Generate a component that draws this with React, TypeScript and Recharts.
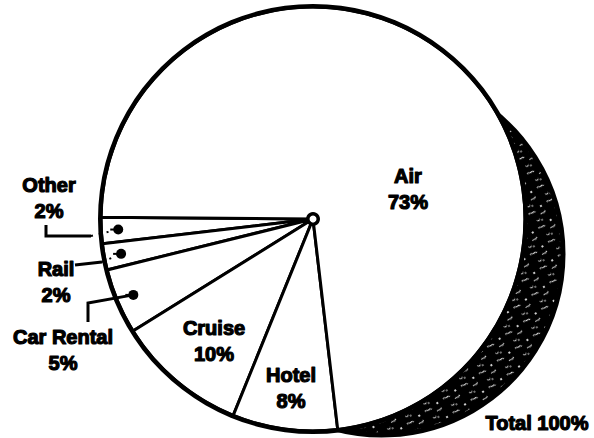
import React from 'react';
import { PieChart, Pie, Cell } from 'recharts';

// travel spend split
const categories = ['Other', 'Rail', 'Car Rental', 'Cruise', 'Hotel', 'Air'];
const shares = [2, 2, 5, 10, 8, 73];
const totalName = 'Total';

const data = categories.map((name, i) => ({ name, value: shares[i] }));
const totalData = [{ name: totalName, value: shares.reduce((a, b) => a + b, 0) }];

const FONT = '"Liberation Sans", Arial, Helvetica, sans-serif';
const RADIAN = Math.PI / 180;

// pie centre and the offset "shadow" disc that makes the crescent
const CX = 313;
const CY = 219;
const R = 212;
const SHADOW_DX = 69;
const SHADOW_DY = 35;

// where the label text sits, relative to the pie centre (first line centre)
const labelSpots: Record<string, { dx: number; dy: number }> = {
	'Other': { dx: -264, dy: -34 },
	'Rail': { dx: -257, dy: 50 },
	'Car Rental': { dx: -250, dy: 118 },
	'Cruise': { dx: -99, dy: 109 },
	'Hotel': { dx: -22, dy: 156 },
	'Air': { dx: 95, dy: -43 },
	'Total': { dx: 155, dy: 169 },
};

// leader lines for the thin slices
const leaders: Record<string, { pts: number[][]; dotted?: boolean; fromDot?: boolean }> = {
	'Other': { pts: [[-267, 6], [-267, 17], [-222, 17]], dotted: true },
	'Rail': { pts: [[-238, 46], [-211, 43]], dotted: true },
	'Car Rental': { pts: [[-225, 84], [-225, 103]], fromDot: true },
};

function Words(props: { x: number; y: number; lines: string[] }) {
	const { x, y, lines } = props;
	return (
		<text x={x} y={y + 7} textAnchor="middle" fontFamily={FONT} fontSize={20} fontWeight={700}
			fill="#000" stroke="#000" strokeWidth={1.2} strokeLinejoin="round">
			{lines.map((l, i) => (
				<tspan key={i} x={x} dy={i === 0 ? 0 : 26}>{l}</tspan>
			))}
		</text>
	);
}

function renderSliceLabel(props: any) {
	const { cx, cy, midAngle, outerRadius, payload } = props;
	const name = payload.name;
	const spot = labelSpots[name];
	const lead = leaders[name];
	let leaderEls = null;
	if (lead) {
		const dotX = cx + outerRadius * 0.92 * Math.cos(-midAngle * RADIAN);
		const dotY = cy + outerRadius * 0.92 * Math.sin(-midAngle * RADIAN);
		const pts = lead.pts.map(p => [cx + p[0], cy + p[1]]);
		const solid = lead.fromDot ? [[dotX, dotY], ...pts] : pts;
		const last = pts[pts.length - 1];
		leaderEls = (
			<g>
				<polyline points={solid.map(p => p.join(',')).join(' ')} fill="none" stroke="#000" strokeWidth={3} />
				{lead.dotted && (
					<line x1={last[0]} y1={last[1]} x2={dotX} y2={dotY} stroke="#000" strokeWidth={2} strokeDasharray="2 6" />
				)}
				<line x1={dotX} y1={dotY} x2={dotX - 8} y2={dotY} stroke="#000" strokeWidth={2} />
				<circle cx={dotX} cy={dotY} r={5} fill="#000" />
			</g>
		);
	}
	return (
		<g key={name}>
			{leaderEls}
			<Words x={cx + spot.dx} y={cy + spot.dy} lines={[name, payload.value + '%']} />
		</g>
	);
}

function renderTotalLabel(props: any) {
	const { cx, cy, payload } = props;
	const spot = labelSpots[payload.name];
	return <Words key="total" x={cx + spot.dx} y={cy + spot.dy} lines={[payload.name + ' ' + payload.value + '%']} />;
}

export default function App() {
	return (
		<div style={{ position: 'absolute', left: 0, top: 0, width: 594, height: 438, background: '#fff' }}>
			<svg width={0} height={0} style={{ position: 'absolute' }}>
				<defs>
					<pattern id="grain" width={22} height={17} patternUnits="userSpaceOnUse" patternTransform="rotate(-35)">
						<rect width={22} height={17} fill="#000" />
						<path d="M2 3 C4 1.5 5 5 8 3.5 L9 5" stroke="#fff" strokeWidth={1} fill="none" />
						<path d="M12 10 C13.5 8 15 11.5 18 9" stroke="#fff" strokeWidth={1} fill="none" />
						<path d="M5 12.5 l2 1.5 l1.5 -1" stroke="#fff" strokeWidth={0.9} fill="none" />
						<circle cx={17} cy={3} r={1.1} fill="#fff" />
						<circle cx={10} cy={15} r={0.8} fill="#fff" />
					</pattern>
				</defs>
			</svg>
			<PieChart width={594} height={438} margin={{ top: 0, right: 0, bottom: 0, left: 0 }}>
				{/* shadow disc behind the pie, shows as the crescent */}
				<Pie data={totalData} dataKey="value" nameKey="name" cx={CX + SHADOW_DX} cy={CY + SHADOW_DY}
					outerRadius={181} startAngle={180} endAngle={540} stroke="#000" strokeWidth={5}
					label={renderTotalLabel} labelLine={false} isAnimationActive={false}>
					<Cell fill="url(#grain)" />
				</Pie>
				<Pie data={data} dataKey="value" nameKey="name" cx={CX} cy={CY} outerRadius={R}
					startAngle={179.5} endAngle={539.5} stroke="#000" strokeWidth={3}
					label={renderSliceLabel} labelLine={false} isAnimationActive={false}>
					{data.map((d) => <Cell key={d.name} fill="#fff" />)}
				</Pie>
				{/* heavier rim */}
				<Pie data={totalData} dataKey="value" cx={CX} cy={CY} innerRadius={R - 1.5} outerRadius={R + 3}
					startAngle={180} endAngle={540} fill="#000" stroke="none" isAnimationActive={false} />
				{/* hub ring */}
				<Pie data={totalData} dataKey="value" cx={CX} cy={CY} outerRadius={4}
					startAngle={180} endAngle={540} fill="#fff" stroke="none" isAnimationActive={false} />
				<Pie data={totalData} dataKey="value" cx={CX} cy={CY} innerRadius={3.5} outerRadius={7}
					startAngle={180} endAngle={540} fill="#000" stroke="none" isAnimationActive={false} />
			</PieChart>
		</div>
	);
}
